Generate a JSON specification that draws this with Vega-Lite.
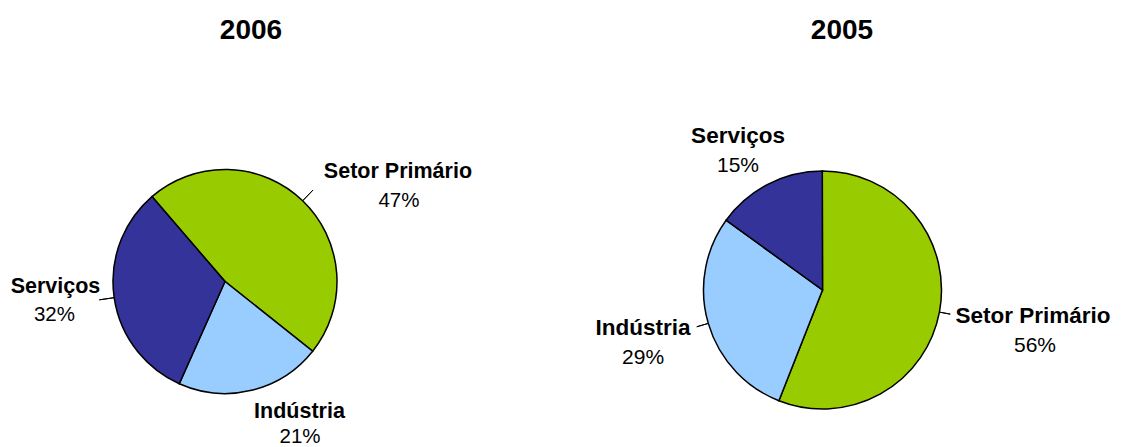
{
  "$schema": "https://vega.github.io/schema/vega-lite/v6.json",
  "padding": {"left": 0, "top": 16, "right": 0, "bottom": 0},
  "background": "white",
  "spacing": 100,
  "bounds": "flush",
  "config": {"view": {"stroke": null}, "font": "Liberation Sans", "text": {"font": "Liberation Sans", "color": "#000000"}},
  "hconcat": [
    {
      "width": 450,
      "height": 299,
      "title": {"text": "2006", "fontSize": 28, "fontWeight": "bold", "font": "Liberation Sans", "color": "#000000", "frame": "group", "anchor": "middle", "dx": 26, "offset": 63, "baseline": "alphabetic"},
      "data": {"values": [
        {"cat": "Setor Primário", "pct": 0.47},
        {"cat": "Indústria", "pct": 0.21},
        {"cat": "Serviços", "pct": 0.32}
      ]},
      "resolve": {"scale": {"theta": "independent"}},
      "layer": [
        {
          "mark": {"type": "arc", "radius": 112, "stroke": "#000000", "strokeWidth": 1.5},
          "encoding": {
            "theta": {"field": "pct", "type": "quantitative", "stack": true, "scale": {"range": [2.2427, 8.5259]}},
            "order": {"field": "cat", "sort": "ascending"},
            "color": {"field": "cat", "type": "nominal", "scale": {"domain": ["Setor Primário", "Indústria", "Serviços"], "range": ["#99CC00", "#99CCFF", "#333399"]}, "legend": null}
          }
        },
        {
          "mark": {"type": "arc", "radius": 127, "radius2": 112, "padAngle": 3, "fill": "transparent", "stroke": "#000000", "strokeWidth": 1},
          "encoding": {
            "theta": {"field": "pct", "type": "quantitative", "stack": true, "scale": {"range": [2.2427, 8.5259]}},
            "order": {"field": "cat", "sort": "ascending"},
            "detail": {"field": "cat"},
            "strokeOpacity": {"condition": {"test": "datum.cat !== 'Indústria'", "value": 1}, "value": 0}
          }
        },
        {
          "mark": {"type": "text", "radius": 160, "dx": 62, "dy": 11.3, "fontSize": 21.5, "fontWeight": "bold", "align": "center", "baseline": "alphabetic"},
          "encoding": {
            "theta": {"field": "pct", "type": "quantitative", "stack": true, "scale": {"range": [2.2427, 8.5259]}},
            "order": {"field": "cat", "sort": "ascending"},
            "detail": {"field": "cat"},
            "text": {"condition": {"test": "datum.cat === 'Setor Primário'", "field": "cat", "type": "nominal"}, "value": ""}
          }
        },
        {
          "mark": {"type": "text", "radius": 160, "dx": 63, "dy": 40.3, "fontSize": 20.5, "align": "center", "baseline": "alphabetic"},
          "encoding": {
            "theta": {"field": "pct", "type": "quantitative", "stack": true, "scale": {"range": [2.2427, 8.5259]}},
            "order": {"field": "cat", "sort": "ascending"},
            "detail": {"field": "cat"},
            "text": {"condition": {"test": "datum.cat === 'Setor Primário'", "field": "pct", "type": "quantitative", "format": ".0%"}, "value": ""}
          }
        },
        {
          "mark": {"type": "text", "radius": 160, "dx": -11.2, "dy": -12.1, "fontSize": 21.5, "fontWeight": "bold", "align": "center", "baseline": "alphabetic"},
          "encoding": {
            "theta": {"field": "pct", "type": "quantitative", "stack": true, "scale": {"range": [2.2427, 8.5259]}},
            "order": {"field": "cat", "sort": "ascending"},
            "detail": {"field": "cat"},
            "text": {"condition": {"test": "datum.cat === 'Serviços'", "field": "cat", "type": "nominal"}, "value": ""}
          }
        },
        {
          "mark": {"type": "text", "radius": 160, "dx": -12.2, "dy": 15.9, "fontSize": 20.5, "align": "center", "baseline": "alphabetic"},
          "encoding": {
            "theta": {"field": "pct", "type": "quantitative", "stack": true, "scale": {"range": [2.2427, 8.5259]}},
            "order": {"field": "cat", "sort": "ascending"},
            "detail": {"field": "cat"},
            "text": {"condition": {"test": "datum.cat === 'Serviços'", "field": "pct", "type": "quantitative", "format": ".0%"}, "value": ""}
          }
        },
        {
          "mark": {"type": "text", "radius": 160, "dx": 36.6, "dy": -19.4, "fontSize": 21.5, "fontWeight": "bold", "align": "center", "baseline": "alphabetic"},
          "encoding": {
            "theta": {"field": "pct", "type": "quantitative", "stack": true, "scale": {"range": [2.2427, 8.5259]}},
            "order": {"field": "cat", "sort": "ascending"},
            "detail": {"field": "cat"},
            "text": {"condition": {"test": "datum.cat === 'Indústria'", "field": "cat", "type": "nominal"}, "value": ""}
          }
        },
        {
          "mark": {"type": "text", "radius": 160, "dx": 37.1, "dy": 6.1, "fontSize": 20.5, "align": "center", "baseline": "alphabetic"},
          "encoding": {
            "theta": {"field": "pct", "type": "quantitative", "stack": true, "scale": {"range": [2.2427, 8.5259]}},
            "order": {"field": "cat", "sort": "ascending"},
            "detail": {"field": "cat"},
            "text": {"condition": {"test": "datum.cat === 'Indústria'", "field": "pct", "type": "quantitative", "format": ".0%"}, "value": ""}
          }
        }
      ]
    },
    {
      "width": 545,
      "height": 316,
      "title": {"text": "2005", "fontSize": 28, "fontWeight": "bold", "font": "Liberation Sans", "color": "#000000", "frame": "group", "anchor": "middle", "dx": 19.5, "offset": 56, "baseline": "alphabetic"},
      "data": {"values": [
        {"cat": "Setor Primário", "pct": 0.56},
        {"cat": "Indústria", "pct": 0.29},
        {"cat": "Serviços", "pct": 0.15}
      ]},
      "resolve": {"scale": {"theta": "independent"}},
      "layer": [
        {
          "mark": {"type": "arc", "radius": 119, "stroke": "#000000", "strokeWidth": 1.5},
          "encoding": {
            "theta": {"field": "pct", "type": "quantitative", "stack": true, "scale": {"range": [3.5168, 9.8]}},
            "order": {"field": "cat", "sort": "ascending"},
            "color": {"field": "cat", "type": "nominal", "scale": {"domain": ["Setor Primário", "Indústria", "Serviços"], "range": ["#99CC00", "#99CCFF", "#333399"]}, "legend": null}
          }
        },
        {
          "mark": {"type": "arc", "radius": 131, "radius2": 119, "padAngle": 3, "fill": "transparent", "stroke": "#000000", "strokeWidth": 1},
          "encoding": {
            "theta": {"field": "pct", "type": "quantitative", "stack": true, "scale": {"range": [3.5168, 9.8]}},
            "order": {"field": "cat", "sort": "ascending"},
            "detail": {"field": "cat"},
            "strokeOpacity": {"condition": {"test": "datum.cat === 'Indústria'", "value": 1}, "value": 0}
          }
        },
        {
          "mark": {"type": "arc", "radius": 130, "radius2": 119, "padAngle": 3, "fill": "transparent", "stroke": "#000000", "strokeWidth": 1},
          "encoding": {
            "theta": {"field": "pct", "type": "quantitative", "stack": true, "scale": {"range": [-0.5044, 2.6372]}},
            "order": {"field": "cat", "sort": "ascending"},
            "detail": {"field": "cat"},
            "strokeOpacity": {"condition": {"test": "datum.cat === 'Setor Primário'", "value": 1}, "value": 0}
          }
        },
        {
          "mark": {"type": "text", "radius": 165, "dx": 48.4, "dy": 1.9, "fontSize": 22.5, "fontWeight": "bold", "align": "center", "baseline": "alphabetic"},
          "encoding": {
            "theta": {"field": "pct", "type": "quantitative", "stack": true, "scale": {"range": [3.5168, 9.8]}},
            "order": {"field": "cat", "sort": "ascending"},
            "detail": {"field": "cat"},
            "text": {"condition": {"test": "datum.cat === 'Setor Primário'", "field": "cat", "type": "nominal"}, "value": ""}
          }
        },
        {
          "mark": {"type": "text", "radius": 165, "dx": 50.4, "dy": 30.9, "fontSize": 21, "align": "center", "baseline": "alphabetic"},
          "encoding": {
            "theta": {"field": "pct", "type": "quantitative", "stack": true, "scale": {"range": [3.5168, 9.8]}},
            "order": {"field": "cat", "sort": "ascending"},
            "detail": {"field": "cat"},
            "text": {"condition": {"test": "datum.cat === 'Setor Primário'", "field": "pct", "type": "quantitative", "format": ".0%"}, "value": ""}
          }
        },
        {
          "mark": {"type": "text", "radius": 165, "dx": -21.1, "dy": -1.8, "fontSize": 22.5, "fontWeight": "bold", "align": "center", "baseline": "alphabetic"},
          "encoding": {
            "theta": {"field": "pct", "type": "quantitative", "stack": true, "scale": {"range": [3.5168, 9.8]}},
            "order": {"field": "cat", "sort": "ascending"},
            "detail": {"field": "cat"},
            "text": {"condition": {"test": "datum.cat === 'Indústria'", "field": "cat", "type": "nominal"}, "value": ""}
          }
        },
        {
          "mark": {"type": "text", "radius": 165, "dx": -21.1, "dy": 27.2, "fontSize": 21, "align": "center", "baseline": "alphabetic"},
          "encoding": {
            "theta": {"field": "pct", "type": "quantitative", "stack": true, "scale": {"range": [3.5168, 9.8]}},
            "order": {"field": "cat", "sort": "ascending"},
            "detail": {"field": "cat"},
            "text": {"condition": {"test": "datum.cat === 'Indústria'", "field": "pct", "type": "quantitative", "format": ".0%"}, "value": ""}
          }
        },
        {
          "mark": {"type": "text", "radius": 165, "dx": -9.3, "dy": -0.6, "fontSize": 22.5, "fontWeight": "bold", "align": "center", "baseline": "alphabetic"},
          "encoding": {
            "theta": {"field": "pct", "type": "quantitative", "stack": true, "scale": {"range": [3.5168, 9.8]}},
            "order": {"field": "cat", "sort": "ascending"},
            "detail": {"field": "cat"},
            "text": {"condition": {"test": "datum.cat === 'Serviços'", "field": "cat", "type": "nominal"}, "value": ""}
          }
        },
        {
          "mark": {"type": "text", "radius": 165, "dx": -9.3, "dy": 28.4, "fontSize": 21, "align": "center", "baseline": "alphabetic"},
          "encoding": {
            "theta": {"field": "pct", "type": "quantitative", "stack": true, "scale": {"range": [3.5168, 9.8]}},
            "order": {"field": "cat", "sort": "ascending"},
            "detail": {"field": "cat"},
            "text": {"condition": {"test": "datum.cat === 'Serviços'", "field": "pct", "type": "quantitative", "format": ".0%"}, "value": ""}
          }
        }
      ]
    }
  ]
}
